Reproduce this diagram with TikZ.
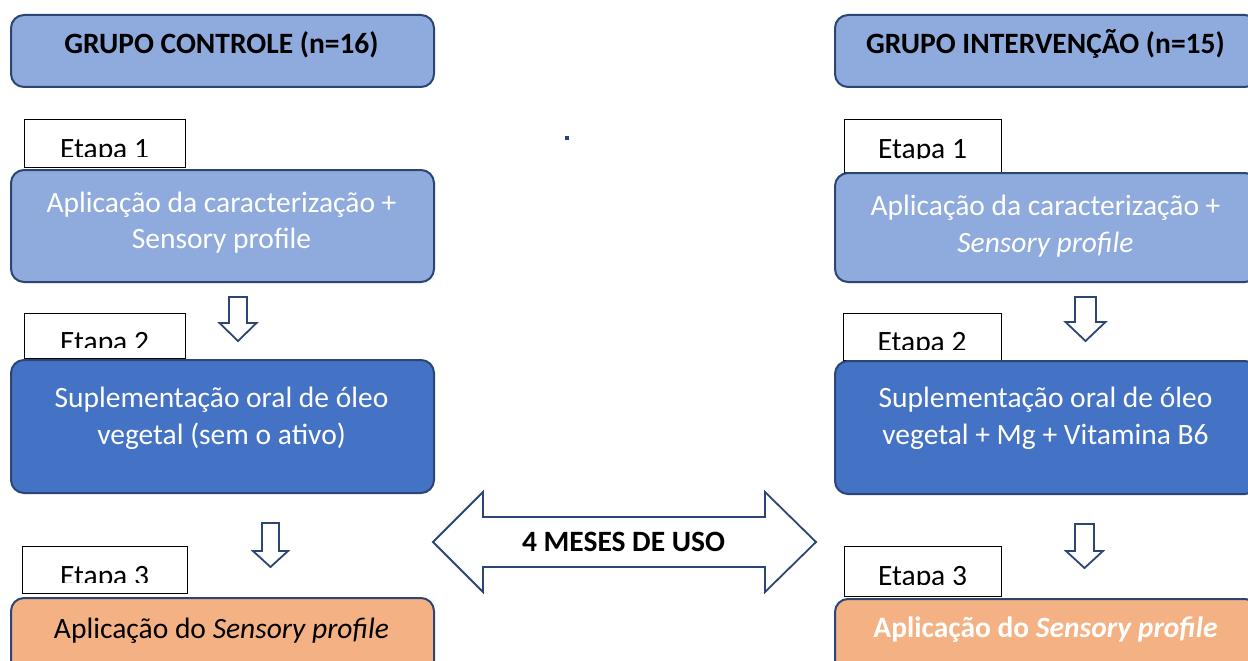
\documentclass[tikz,border=0pt]{standalone}
\usepackage{fontspec}
\setmainfont{Carlito}
\definecolor{lblue}{HTML}{8FAADC}
\definecolor{mblue}{HTML}{4472C4}
\definecolor{orng}{HTML}{F4B183}
\definecolor{navy}{HTML}{2B4674}
\newcommand\blockdown[6]{%
  \draw[blockarrow] (#1-#5,#2) -- (#1+#5,#2) -- (#1+#5,#3) -- (#1+#6,#3) -- (#1,#4) -- (#1-#6,#3) -- (#1-#5,#3) -- cycle;}
\newcommand\bodysize{\fontsize{29.5}{35}\selectfont}
\begin{document}
\begin{tikzpicture}[x=1pt,y=-1pt,
  box/.style={draw=navy, line width=2pt, rounded corners=13pt, inner sep=0pt, anchor=north west},
  lbl/.style={draw=black, line width=1.3pt, fill=white, inner sep=0pt, anchor=north west},
  txt/.style={anchor=base, inner sep=0pt, font=\bodysize},
  btxt/.style={txt, font=\bodysize\bfseries},
  wtxt/.style={txt, text=white},
  blockarrow/.style={draw=navy, line width=1.8pt, fill=white, line join=miter}]
\useasboundingbox (0,0) rectangle (1248,661);
\clip (0,0) rectangle (1248,661);
\fill[white] (0,0) rectangle (1248,661);

% headers
\node[box, fill=lblue, minimum width=423pt, minimum height=72pt] (hl) at (10,14) {};
\node[box, fill=lblue, minimum width=423pt, minimum height=72pt] (hr) at (834,14) {};
\node[btxt] (hlt) at (221.5,54) {GRUPO CONTROLE (n=16)};
\node[btxt] (hrt) at (1045.5,54) {GRUPO INTERVENÇÃO (n=15)};

% stage labels
\node[lbl, minimum width=161pt, minimum height=48pt] (e1l) at (24,119) {};
\node[lbl, minimum width=157pt, minimum height=53pt] (e1r) at (844,119) {};
\node[lbl, minimum width=161pt, minimum height=45pt] (e2l) at (24,313) {};
\node[lbl, minimum width=158pt, minimum height=47pt] (e2r) at (843,313) {};
\node[lbl, minimum width=165pt, minimum height=47pt] (e3l) at (22,546) {};
\node[lbl, minimum width=157pt, minimum height=50pt] (e3r) at (844,546) {};
\begin{scope}\clip (24,119) rectangle (185,156);
\node[txt] (e1lt) at (104.5,158) {Etapa 1};\end{scope}
\begin{scope}\clip (844,119) rectangle (1001,158.5);
\node[txt] (e1rt) at (922.5,158) {Etapa 1};\end{scope}
\begin{scope}\clip (24,313) rectangle (185,347);
\node[txt] (e2lt) at (104.5,351) {Etapa 2};\end{scope}
\begin{scope}\clip (843,313) rectangle (1001,349);
\node[txt] (e2rt) at (922,351) {Etapa 2};\end{scope}
\begin{scope}\clip (22,546) rectangle (187,582);
\node[txt] (e3lt) at (104.5,585) {Etapa 3};\end{scope}
\begin{scope}\clip (844,546) rectangle (1001,584);
\node[txt] (e3rt) at (922.5,585) {Etapa 3};\end{scope}

% stage 1 boxes
\node[box, fill=lblue, minimum width=423pt, minimum height=112pt] (b1l) at (10,169) {};
\node[box, fill=lblue, minimum width=423pt, minimum height=109pt] (b1r) at (834,172) {};
\node[wtxt] (b1la) at (221.5,212) {Aplicação da caracterização +};
\node[wtxt] (b1lb) at (221.5,248) {Sensory profile};
\node[wtxt] (b1ra) at (1045.5,215) {Aplicação da caracterização +};
\node[wtxt] (b1rb) at (1045.5,252) {\itshape Sensory profile};

% stage 2 boxes
\node[box, fill=mblue, minimum width=423pt, minimum height=133pt] (b2l) at (10,359) {};
\node[box, fill=mblue, minimum width=423pt, minimum height=133pt] (b2r) at (834,360) {};
\node[wtxt] (b2la) at (221.5,407) {Suplementação oral de óleo};
\node[wtxt] (b2lb) at (221.5,444) {vegetal (sem o ativo)};
\node[wtxt] (b2ra) at (1045.5,407) {Suplementação oral de óleo};
\node[wtxt] (b2rb) at (1045.5,444) {vegetal + Mg + Vitamina B6};

% stage 3 boxes
\node[box, fill=orng, minimum width=423pt, minimum height=90pt] (b3l) at (10,597) {};
\node[box, fill=orng, minimum width=423pt, minimum height=90pt] (b3r) at (834,598) {};
\node[txt] (b3lt) at (221.5,638) {Aplicação do \textit{Sensory profile}};
\node[btxt, text=white] (b3rt) at (1045.5,637) {Aplicação do \textit{Sensory profile}};

% down block arrows
\blockdown{238}{297}{323}{341}{9}{18.5}
\blockdown{1085.5}{297}{322}{341}{10.5}{20}
\blockdown{270.5}{523}{551}{567}{8.5}{17.5}
\blockdown{1084.5}{524}{551}{568}{9.5}{18.5}

% double arrow
\draw[blockarrow] (433,542) -- (483,492) -- (483,517) -- (765,517) -- (765,492) -- (816,542)
  -- (765,592) -- (765,567) -- (483,567) -- (483,592) -- cycle;
\node[btxt] (dur) at (623.5,551) {4 MESES DE USO};

% stray dot
\node[fill=navy, minimum size=4pt, inner sep=0pt] (dot) at (567,138) {};
\end{tikzpicture}
\end{document}
